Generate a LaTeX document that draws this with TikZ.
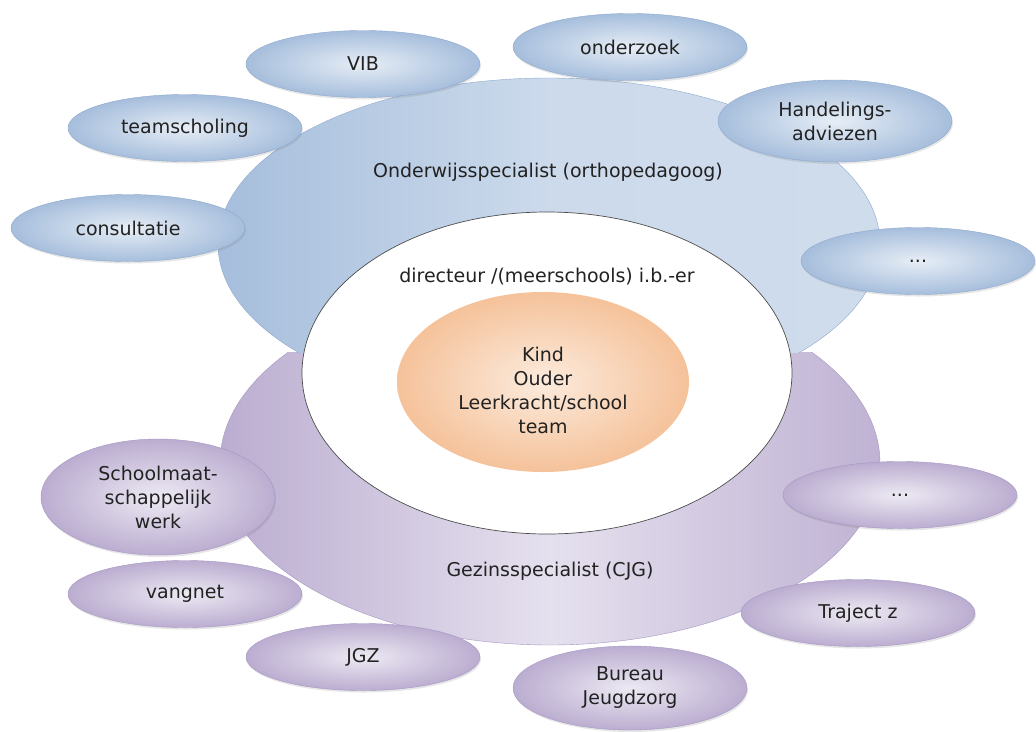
\documentclass[tikz,border=0pt]{standalone}
\usepackage{fontspec}
\setmainfont{DejaVu Sans}
\usepackage{xcolor}
\usepackage{tikz}
\usetikzlibrary{shapes.geometric,shadows}

\definecolor{onderLight}{HTML}{DCE6F2}
\definecolor{onderDark}{HTML}{A6BEDC}
\definecolor{onderEdge}{HTML}{8EA8CC}
\definecolor{gezinLight}{HTML}{E5E0EE}
\definecolor{gezinDark}{HTML}{BBADD0}
\definecolor{gezinEdge}{HTML}{A596C2}
\definecolor{kindLight}{HTML}{FCEBDD}
\definecolor{kindDark}{HTML}{F5C29A}
\definecolor{tekst}{HTML}{222222}

\begin{document}
\begin{tikzpicture}[x=1pt,y=-1pt,
    every node/.style={font=\fontsize{19}{24}\selectfont, text=tekst, align=center},
    ring/.style={ellipse, inner sep=0pt},
    bluepetal/.style={ellipse, draw=onderEdge, inner sep=0pt, minimum width=234pt, minimum height=67pt,
        inner color=onderLight!70!white, outer color=onderDark,
        drop shadow={opacity=0.2, shadow xshift=1pt, shadow yshift=-2pt}},
    purplepetal/.style={ellipse, draw=gezinEdge, inner sep=0pt, minimum width=234pt, minimum height=67pt,
        inner color=gezinLight!70!white, outer color=gezinDark,
        drop shadow={opacity=0.2, shadow xshift=1pt, shadow yshift=-2pt}}]
    \useasboundingbox (0,0) rectangle (1036,731);

    % outer rings
    \begin{scope}
      \clip (0,352) rectangle (1036,731);
      \node [ring, draw=gezinEdge, minimum width=660pt, minimum height=364pt,
             left color=gezinDark, right color=gezinDark!90!gezinLight, middle color=gezinLight] (gezin) at (550,463) {};
    \end{scope}
    \begin{scope}
      \clip (0,0) rectangle (1036,352);
      \node [ring, draw=onderEdge, minimum width=662pt, minimum height=332pt,
             left color=onderDark, right color=onderLight!75!onderDark, middle color=onderLight!70!onderDark] (onderwijs) at (549,244) {};
    \end{scope}
    \node (onderwijslabel) at (548,172) {Onderwijsspecialist (orthopedagoog)};
    \node (gezinlabel) at (550,571) {Gezinsspecialist (CJG)};

    % inner rings
    \node [ring, draw=black!70, line width=0.7pt, fill=white, minimum width=490pt, minimum height=322pt] (directie) at (547,373) {};
    \node (directielabel) at (547,277) {directeur /(meerschools) i.b.-er};
    \node [ring, inner color=kindLight, outer color=kindDark, minimum width=292pt, minimum height=180pt] (kind) at (543,382) {};
    \node (kindlabel) at (543,390) {Kind\\Ouder\\Leerkracht/school\\team};

    % onderwijs petals
    \node [bluepetal] (vib) at (363,64) {VIB};
    \node [bluepetal] (teamscholing) at (185,128) {teamscholing};
    \node [bluepetal] (consultatie) at (128,228) {consultatie};
    \node [bluepetal] (onderzoek) at (630,47) {onderzoek};
    \node [bluepetal, minimum height=82pt] (handelings) at (835,121) {Handelings-\\adviezen};
    \node [bluepetal] (onderMeer) at (918,261) {...};

    % gezin petals
    \node [purplepetal, minimum height=116pt] (schoolmaat) at (158,497) {Schoolmaat-\\schappelijk\\werk};
    \node [purplepetal] (vangnet) at (185,594) {vangnet};
    \node [purplepetal] (jgz) at (363,657) {JGZ};
    \node [purplepetal, minimum height=84pt] (bureau) at (630,688) {Bureau\\Jeugdzorg};
    \node [purplepetal] (traject) at (858,613) {Traject z};
    \node [purplepetal] (gezinMeer) at (900,495) {...};
\end{tikzpicture}
\end{document}
